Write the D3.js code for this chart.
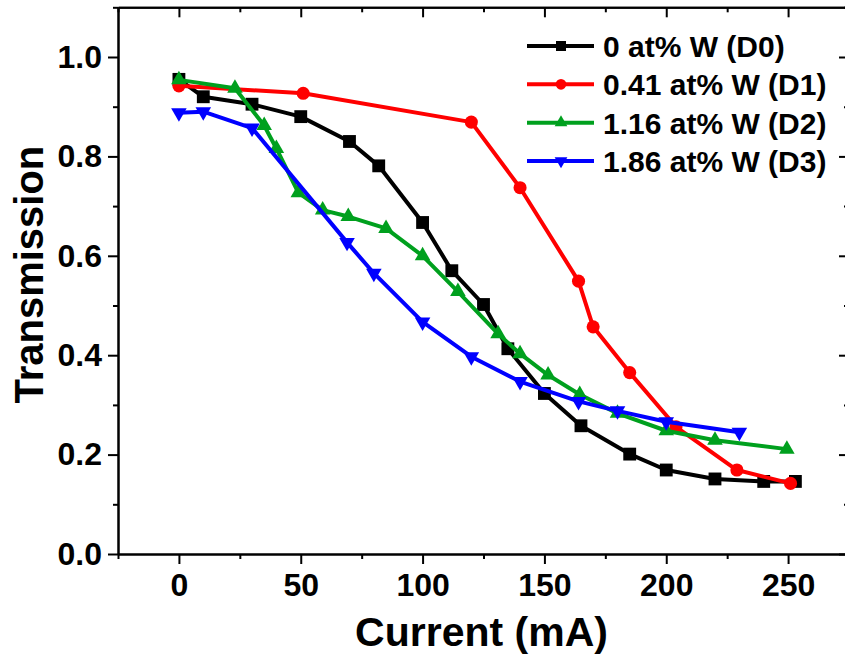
<!DOCTYPE html>
<html>
<head>
<meta charset="utf-8">
<script src="https://cdn.jsdelivr.net/npm/d3@7"></script>
<style>
  html, body { margin: 0; padding: 0; background: #fff; }
  svg { display: block; }
  text { font-family: "Liberation Sans", Arial, sans-serif; font-weight: bold; }
</style>
</head>
<body>
<svg id="chart" width="845" height="659"></svg>
<script>
// ---- data ----
const currentD0 = [0, 10, 30, 50, 70, 82, 100, 112, 125, 135, 150, 165, 185, 200, 220, 240, 253];
const transD0   = [0.955, 0.920, 0.905, 0.880, 0.830, 0.781, 0.667, 0.570, 0.502, 0.413, 0.323, 0.258, 0.201, 0.169, 0.151, 0.146, 0.146];

const currentD1 = [0, 51, 120, 140, 164, 170, 185, 204, 229, 251];
const transD1   = [0.942, 0.927, 0.869, 0.737, 0.549, 0.457, 0.365, 0.256, 0.169, 0.142];

const currentD2 = [0, 23, 35, 40, 49, 59, 69.5, 85, 100, 114.5, 131, 140, 151.5, 164.5, 180, 200, 220, 249.5];
const transD2   = [0.954, 0.937, 0.862, 0.816, 0.727, 0.692, 0.679, 0.655, 0.600, 0.528, 0.443, 0.403, 0.360, 0.321, 0.283, 0.248, 0.229, 0.211];

const currentD3 = [0, 10, 30, 69, 80, 100, 120, 140, 164, 180, 200, 230];
const transD3   = [0.888, 0.890, 0.857, 0.627, 0.565, 0.467, 0.397, 0.347, 0.307, 0.288, 0.266, 0.245];

const seriesNames   = ["0 at% W (D0)", "0.41 at% W (D1)", "1.16 at% W (D2)", "1.86 at% W (D3)"];
const seriesColors  = ["#000000", "#ff0000", "#00a01e", "#0000ff"];
const seriesSymbols = ["square", "circle", "triangleUp", "triangleDown"];

const xMajorTicks = [0, 50, 100, 150, 200, 250];
const xMinorTicks = [-25, 25, 75, 125, 175, 225, 275];
const yMajorTicks = [0.0, 0.2, 0.4, 0.6, 0.8, 1.0];
const yMinorTicks = [0.1, 0.3, 0.5, 0.7, 0.9, 1.1];

const xLabel = "Current (mA)";
const yLabel = "Transmission";

// ---- layout ----
const svg = d3.select("#chart");
const pLeft = 118, pRight = 849, pTop = 7.3, pBottom = 554;
const x = d3.scaleLinear().domain([-25, 275]).range([pLeft, pRight]);
const y = d3.scaleLinear().domain([0, 1.1]).range([pBottom, pTop]);

const series = [
  { x: currentD0, y: transD0 },
  { x: currentD1, y: transD1 },
  { x: currentD2, y: transD2 },
  { x: currentD3, y: transD3 }
].map((s, i) => ({
  name: seriesNames[i], color: seriesColors[i], symbol: seriesSymbols[i],
  pts: s.x.map((v, j) => [v, s.y[j]])
}));

// ---- axes ----
const fontTick = 32;
const fontLegend = 30;
function styleAxis(g) {
  g.selectAll(".domain").attr("stroke", "#000").attr("stroke-width", 2);
  g.selectAll(".tick line").attr("stroke", "#000").attr("stroke-width", 2);
}
// bottom
const gB = svg.append("g").attr("transform", `translate(0,${pBottom})`)
  .call(d3.axisBottom(x).tickValues(xMajorTicks).tickSize(10).tickSizeOuter(0).tickPadding(9).tickFormat(d3.format("d")));
gB.selectAll("text").attr("font-size", fontTick).attr("fill", "#000");
styleAxis(gB);
const gBm = svg.append("g").attr("transform", `translate(0,${pBottom})`)
  .call(d3.axisBottom(x).tickValues(xMinorTicks).tickSize(5).tickSizeOuter(0).tickFormat(""));
styleAxis(gBm);
// top (inward)
const gT = svg.append("g").attr("transform", `translate(0,${pTop})`)
  .call(d3.axisBottom(x).tickValues(xMajorTicks).tickSize(10).tickSizeOuter(0).tickFormat(""));
styleAxis(gT);
const gTm = svg.append("g").attr("transform", `translate(0,${pTop})`)
  .call(d3.axisBottom(x).tickValues(xMinorTicks).tickSize(5).tickSizeOuter(0).tickFormat(""));
styleAxis(gTm);
// left
const gL = svg.append("g").attr("transform", `translate(${pLeft},0)`)
  .call(d3.axisLeft(y).tickValues(yMajorTicks).tickSize(10).tickSizeOuter(0).tickPadding(6).tickFormat(d3.format(".1f")));
gL.selectAll("text").attr("font-size", fontTick).attr("fill", "#000");
styleAxis(gL);
const gLm = svg.append("g").attr("transform", `translate(${pLeft},0)`)
  .call(d3.axisLeft(y).tickValues(yMinorTicks).tickSize(5).tickSizeOuter(0).tickFormat(""));
styleAxis(gLm);
// right (inward)
const gR = svg.append("g").attr("transform", `translate(${pRight},0)`)
  .call(d3.axisLeft(y).tickValues(yMajorTicks).tickSize(10).tickSizeOuter(0).tickFormat(""));
styleAxis(gR);
const gRm = svg.append("g").attr("transform", `translate(${pRight},0)`)
  .call(d3.axisLeft(y).tickValues(yMinorTicks).tickSize(5).tickSizeOuter(0).tickFormat(""));
styleAxis(gRm);

// axis titles
svg.append("text").attr("x", (pLeft + pRight) / 2 - 2).attr("y", 646)
  .attr("text-anchor", "middle").attr("font-size", 41).attr("fill", "#000").text(xLabel);
svg.append("text").attr("transform", `translate(43,${(pTop + pBottom) / 2 - 6}) rotate(-90)`)
  .attr("text-anchor", "middle").attr("font-size", 40).attr("fill", "#000").text(yLabel);

// ---- symbols ----
function symbolPath(kind) {
  if (kind === "square") return d3.symbol(d3.symbolSquare, 165)();
  if (kind === "circle") return d3.symbol(d3.symbolCircle, 135)();
  return d3.symbol(d3.symbolTriangle, 105)();
}
function symbolTransform(kind, px, py) {
  return kind === "triangleDown" ? `translate(${px},${py}) rotate(180)` : `translate(${px},${py})`;
}

// ---- series ----
const line = d3.line().x(d => x(d[0])).y(d => y(d[1]));
series.forEach(s => {
  const g = svg.append("g");
  g.append("path").datum(s.pts).attr("d", line)
    .attr("fill", "none").attr("stroke", s.color).attr("stroke-width", 4).attr("stroke-linejoin", "round");
  g.selectAll("path.sym").data(s.pts).enter().append("path").attr("class", "sym")
    .attr("d", symbolPath(s.symbol))
    .attr("transform", d => symbolTransform(s.symbol, x(d[0]), y(d[1])))
    .attr("fill", s.color);
});

// ---- legend ----
const legRows = [46, 84.3, 122.7, 161];
series.forEach((s, i) => {
  const g = svg.append("g").attr("transform", `translate(0,${legRows[i]})`);
  g.append("line").attr("x1", 527).attr("x2", 594).attr("y1", 0).attr("y2", 0)
    .attr("stroke", s.color).attr("stroke-width", 4);
  g.append("path").attr("d", s.symbol === "square" ? d3.symbol(d3.symbolSquare, 100)() :
                              s.symbol === "circle" ? d3.symbol(d3.symbolCircle, 90)() :
                              d3.symbol(d3.symbolTriangle, 70)())
    .attr("transform", symbolTransform(s.symbol, 561, 0)).attr("fill", s.color);
  g.append("text").attr("x", 603).attr("y", 0).attr("dy", "0.36em")
    .attr("font-size", fontLegend).attr("fill", "#000").text(s.name);
});
</script>
</body>
</html>
